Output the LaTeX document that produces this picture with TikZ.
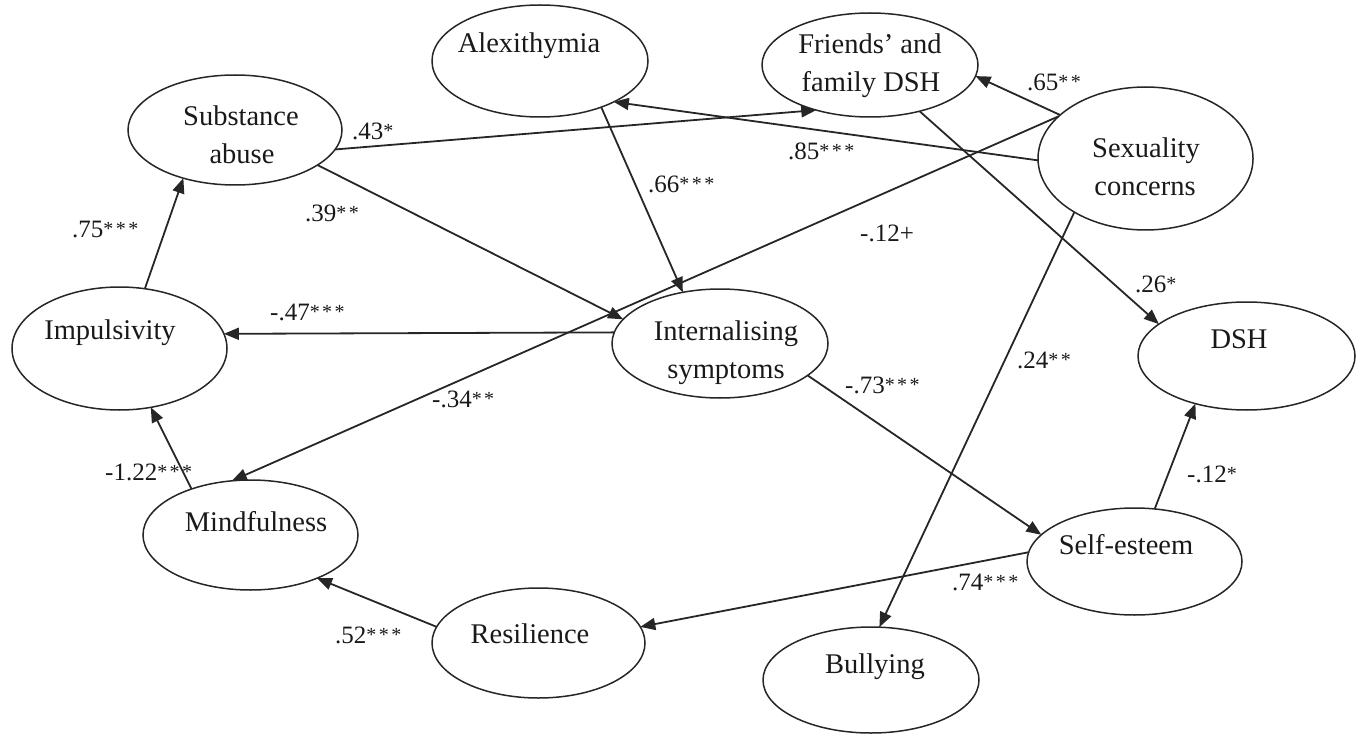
\documentclass[tikz,border=0pt]{standalone}
\usepackage{fontspec}
\setmainfont{Liberation Serif}
\usetikzlibrary{arrows.meta,shapes.geometric}
% significance stars: small and slightly raised
\newcommand{\sig}[1]{\raisebox{2pt}{\fontsize{20pt}{20pt}\selectfont\addfontfeatures{LetterSpace=12}#1}}

\begin{document}
\begin{tikzpicture}[x=1pt,y=-1pt,
  ell/.style={draw=black!85, line width=1.5pt, ellipse, inner sep=0pt, outer sep=0pt},
  txt/.style={font=\fontsize{28.5pt}{38pt}\selectfont, inner sep=0pt, anchor=base, text=black!90},
  coef/.style={font=\fontsize{25pt}{30pt}\selectfont, inner sep=0pt, anchor=base west, text=black!90},
  path/.style={draw=black!85, line width=1.8pt, -{Triangle[length=15pt,width=12pt]}}
]
\useasboundingbox (0,0) rectangle (1364,735);

% constructs
\node[ell, minimum width=214pt, minimum height=110pt] (sub) at (235,130) {};
\node[ell, minimum width=216pt, minimum height=112pt] (alx) at (540,61) {};
\node[ell, minimum width=216pt, minimum height=104pt] (fri) at (870,65) {};
\node[ell, minimum width=215pt, minimum height=143pt] (sex) at (1145.5,158.5) {};
\node[ell, minimum width=215pt, minimum height=123pt] (imp) at (119.5,348.5) {};
\node[ell, minimum width=216pt, minimum height=109pt] (int) at (720,343.5) {};
\node[ell, minimum width=217pt, minimum height=108pt] (dsh) at (1246.5,356) {};
\node[ell, minimum width=215pt, minimum height=110pt] (mnd) at (250.5,535) {};
\node[ell, minimum width=213pt, minimum height=110pt] (res) at (538.5,643) {};
\node[ell, minimum width=215pt, minimum height=107pt] (slf) at (1134.5,561.5) {};
\node[ell, minimum width=216pt, minimum height=106pt] (bul) at (871,680) {};

% construct names
\node[txt] (sub-a) at (241,126) {Substance};
\node[txt] (sub-b) at (242,164) {abuse};
\node[txt] (alx-a) at (529,53) {Alexithymia};
\node[txt] (fri-a) at (870,54) {Friends’ and};
\node[txt] (fri-b) at (871,92) {family DSH};
\node[txt] (sex-a) at (1146,158) {Sexuality};
\node[txt] (sex-b) at (1145,196) {concerns};
\node[txt] (imp-a) at (110,339) {Impulsivity};
\node[txt] (int-a) at (726,340) {Internalising};
\node[txt] (int-b) at (726,378) {symptoms};
\node[txt] (dsh-a) at (1239,348) {DSH};
\node[txt] (mnd-a) at (256,531) {Mindfulness};
\node[txt] (res-a) at (530,643) {Resilience};
\node[txt] (slf-a) at (1126,554) {Self-esteem};
\node[txt] (bul-a) at (875,673) {Bullying};

% paths
\draw[path] (imp.67) -- (sub.223);
\draw[path] (sub.349) -- (fri.220);
\draw[path] (sub.337) -- (int.166);
\draw[path] (alx.323) -- (int.126);
\draw[path] (sex.181) -- (alx.331);
\draw[path] (sex.153) -- (fri.354);
\draw[path] (sex.154) -- (mnd.109);
\draw[path] (int.174) -- (imp.8);
\draw[path] (mnd.142) -- (imp.298);
\draw[path] (res.171) -- (mnd.327);
\draw[path] (int.340) -- (slf.164);
\draw[path] (slf.175) -- (res.9);
\draw[path] (sex.217) -- (bul.81);
\draw[path] (fri.317) -- (dsh.160);
\draw[path] (slf.69) -- (dsh.223);

% path coefficients
\node[coef] (c1) at (72,238) {.75\sig{***}};
\node[coef] (c2) at (352,140) {.43\sig{*}};
\node[coef] (c3) at (305,222) {.39\sig{**}};
\node[coef] (c4) at (648,193) {.66\sig{***}};
\node[coef] (c5) at (788,160) {.85\sig{***}};
\node[coef] (c6) at (1027,91) {.65\sig{**}};
\node[coef] (c7) at (860,242) {-.12+};
\node[coef] (c8) at (270,320) {-.47\sig{***}};
\node[coef] (c9) at (432,407) {-.34\sig{**}};
\node[coef] (c10) at (105,480) {-1.22\sig{***}};
\node[coef] (c11) at (335,643) {.52\sig{***}};
\node[coef] (c12) at (845,393) {-.73\sig{***}};
\node[coef] (c13) at (952,590) {.74\sig{***}};
\node[coef] (c14) at (1017,368) {.24\sig{**}};
\node[coef] (c15) at (1135,292) {.26\sig{*}};
\node[coef] (c16) at (1187,482) {-.12\sig{*}};
\end{tikzpicture}
\end{document}
